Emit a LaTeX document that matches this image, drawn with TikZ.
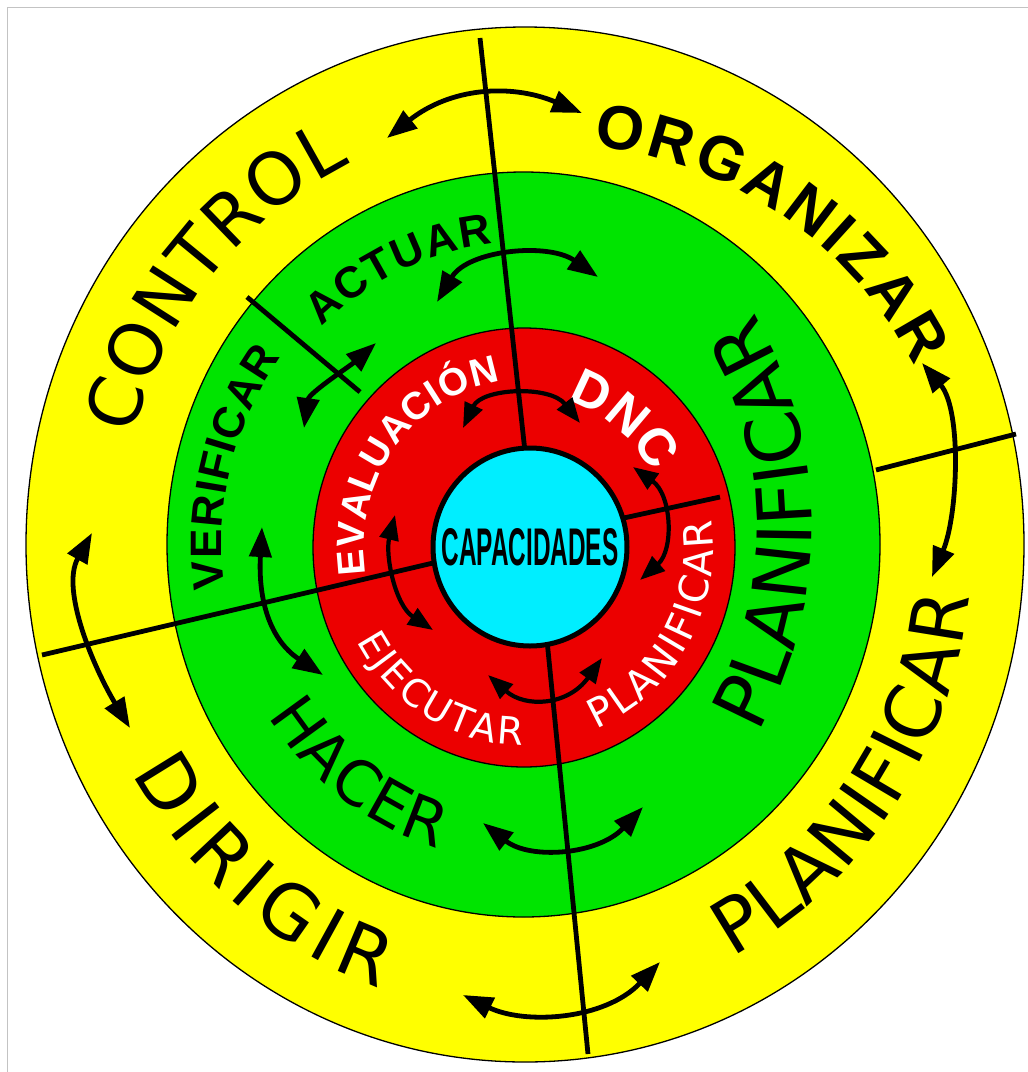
\documentclass[tikz,border=0pt]{standalone}
\usepackage{fontspec}
\setmainfont{DejaVu Sans}
\newfontfamily\libsans{Liberation Sans}
\usetikzlibrary{decorations.text,arrows.meta}
\definecolor{ringyellow}{RGB}{255,255,0}
\definecolor{ringgreen}{RGB}{0,228,0}
\definecolor{ringred}{RGB}{236,0,0}
\definecolor{corecyan}{RGB}{0,238,255}
\definecolor{framegray}{RGB}{195,195,195}
\tikzset{
  divider/.style={line width=4.8pt},
  bigarrow/.style={line width=4.8pt, {Triangle[length=30pt,width=22pt]}-{Triangle[length=30pt,width=22pt]}},
  smallarrow/.style={line width=4.2pt, {Triangle[length=25pt,width=19pt]}-{Triangle[length=25pt,width=19pt]}},
  ringline/.style={draw=black, line width=1.3pt},
  curvedtext/.style={decorate, decoration={text along path, text align={fit to path}, text={#1}}},
}
\begin{document}
\begin{tikzpicture}[x=1pt,y=-1pt]
\useasboundingbox (0,0) rectangle (1028,1072);
\fill[white] (0,0) rectangle (1028,1072);
\draw[framegray, line width=1.5pt] (7.5,1072) -- (7.5,7.5) -- (1028,7.5);

% rings
\draw[ringline, fill=ringyellow] (525,544.5) ellipse [x radius=499, y radius=517.5];
\draw[ringline, fill=ringgreen] (523.5,544.5) ellipse [x radius=356.5, y radius=372.5];
\draw[ringline, fill=ringred] (524,547.5) ellipse [x radius=211, y radius=219.5];

% dividers
\coordinate (l1a) at (480,38);   \coordinate (l1b) at (527,470);
\coordinate (l2a) at (546,630);  \coordinate (l2b) at (588,1054);
\coordinate (l3a) at (42,655);   \coordinate (l3b) at (450,559);
\coordinate (l4a) at (610,521);  \coordinate (l4b) at (720,497);
\coordinate (l4c) at (876,470);  \coordinate (l4d) at (1016,434);
\coordinate (l5a) at (247,297);  \coordinate (l5b) at (360,392);
\draw[divider] (l1a) -- (l1b);
\draw[divider] (l2a) -- (l2b);
\draw[divider] (l3a) -- (l3b);
\draw[divider] (l4a) -- (l4b);
\draw[divider] (l4c) -- (l4d);
\draw[divider] (l5a) -- (l5b);

% core
\draw[line width=5pt, fill=corecyan] (530,547) ellipse [x radius=97, y radius=99];
\node[inner sep=0pt] (core) at (530,547) {\scalebox{0.46}[1]{\libsans\bfseries\fontsize{53}{53}\selectfont CAPACIDADES}};

% outer ring texts
\path[curvedtext={|\fontsize{72}{72}\selectfont|CONTROL}]
  (525,545) ++(195:406 and 423) arc[start angle=195, end angle=244.5, x radius=406, y radius=423];
\path[curvedtext={|\libsans\bfseries\fontsize{62}{62}\selectfont|ORGANIZAR}]
  (551,552) ++(275.9:408) arc[start angle=275.9, end angle=332.9, radius=408];
\path[curvedtext={|\fontsize{75}{75}\selectfont|PLANIFICAR}]
  (525,545) ++(62.4:447 and 465) arc[start angle=62.4, end angle=6.3, x radius=447, y radius=465];
\path[curvedtext={|\fontsize{75}{75}\selectfont|DIRIGIR}]
  (525,545) ++(150.8:450 and 468) arc[start angle=150.8, end angle=108.8, x radius=450, y radius=468];

% green ring texts
\path[curvedtext={|\libsans\bfseries\fontsize{44}{44}\selectfont|ACTUAR}]
  (523.5,544.5) ++(226:290 and 302) arc[start angle=226, end angle=264, x radius=290, y radius=302];
\path[curvedtext={|\libsans\bfseries\fontsize{44}{44}\selectfont|VERIFICAR}]
  (523.5,544.5) ++(171.9:302 and 314) arc[start angle=171.9, end angle=216.7, x radius=302, y radius=314];
\path[curvedtext={|\fontsize{62}{62}\selectfont|HACER}]
  (523.5,544.5) ++(147.2:304 and 316) arc[start angle=147.2, end angle=106.3, x radius=304, y radius=316];
\path[curvedtext={|\fontsize{75}{75}\selectfont|PLANIFICAR}]
  (387.5,527.7) ++(29:424) arc[start angle=29, end angle=-30.5, radius=424];

% red ring texts
\path[curvedtext={|\color{white}\libsans\bfseries\fontsize{38.5}{38.5}\selectfont|EVALUACIÓN}]
  (524,547) ++(170.5:160 and 167) arc[start angle=170.5, end angle=261.5, x radius=160, y radius=167];
\path[curvedtext={|\color{white}\libsans\bfseries\fontsize{52}{52}\selectfont|DNC}]
  (524,547) ++(287:147 and 153) arc[start angle=287, end angle=331, x radius=147, y radius=153];
\path[curvedtext={|\color{white}\fontsize{40}{40}\selectfont|PLANIFICAR}]
  (524,547) ++(67.5:189 and 197) arc[start angle=67.5, end angle=-8, x radius=189, y radius=197];
\path[curvedtext={|\color{white}\fontsize{38}{38}\selectfont|EJECUTAR}]
  (524,547) ++(151.6:190 and 198) arc[start angle=151.6, end angle=90.3, x radius=190, y radius=198];

% arrows, outer ring
\coordinate (a1s) at (387,138);  \coordinate (a1e) at (582,113);
\coordinate (a2s) at (922,363);  \coordinate (a2e) at (932,577);
\coordinate (a3s) at (463,995);  \coordinate (a3e) at (660,962);
\coordinate (a4s) at (92,533);   \coordinate (a4e) at (130,728);
\draw[bigarrow] (a1s) .. controls (450,88) and (510,83) .. (a1e);
\draw[bigarrow] (a2s) .. controls (962,410) and (958,515) .. (a2e);
\draw[bigarrow] (a3s) .. controls (525,1025) and (605,1020) .. (a3e);
\draw[bigarrow] (a4s) .. controls (60,590) and (95,670) .. (a4e);

% arrows, green ring
\coordinate (b1s) at (437,302);  \coordinate (b1e) at (598,277);
\coordinate (b2s) at (304,428);  \coordinate (b2e) at (376,343);
\coordinate (b3s) at (262,527);  \coordinate (b3e) at (323,675);
\coordinate (b4s) at (483,823);  \coordinate (b4e) at (643,807);
\draw[bigarrow] (b1s) .. controls (468,250) and (548,242) .. (b1e);
\draw[bigarrow] (b2s) .. controls (309,393) and (350,366) .. (b2e);
\draw[bigarrow] (b3s) .. controls (258,600) and (270,640) .. (b3e);
\draw[bigarrow] (b4s) .. controls (530,860) and (598,855) .. (b4e);

% arrows, red ring
\coordinate (c1s) at (463,428);  \coordinate (c1e) at (580,423);
\coordinate (c2s) at (633,467);  \coordinate (c2e) at (640,580);
\coordinate (c3s) at (488,675);  \coordinate (c3e) at (602,658);
\coordinate (c4s) at (395,515);  \coordinate (c4e) at (433,630);
\draw[smallarrow] (c1s) .. controls (482,388) and (550,385) .. (c1e);
\draw[smallarrow] (c2s) .. controls (672,495) and (674,550) .. (c2e);
\draw[smallarrow] (c3s) .. controls (525,708) and (568,706) .. (c3e);
\draw[smallarrow] (c4s) .. controls (385,555) and (395,605) .. (c4e);
\end{tikzpicture}
\end{document}
